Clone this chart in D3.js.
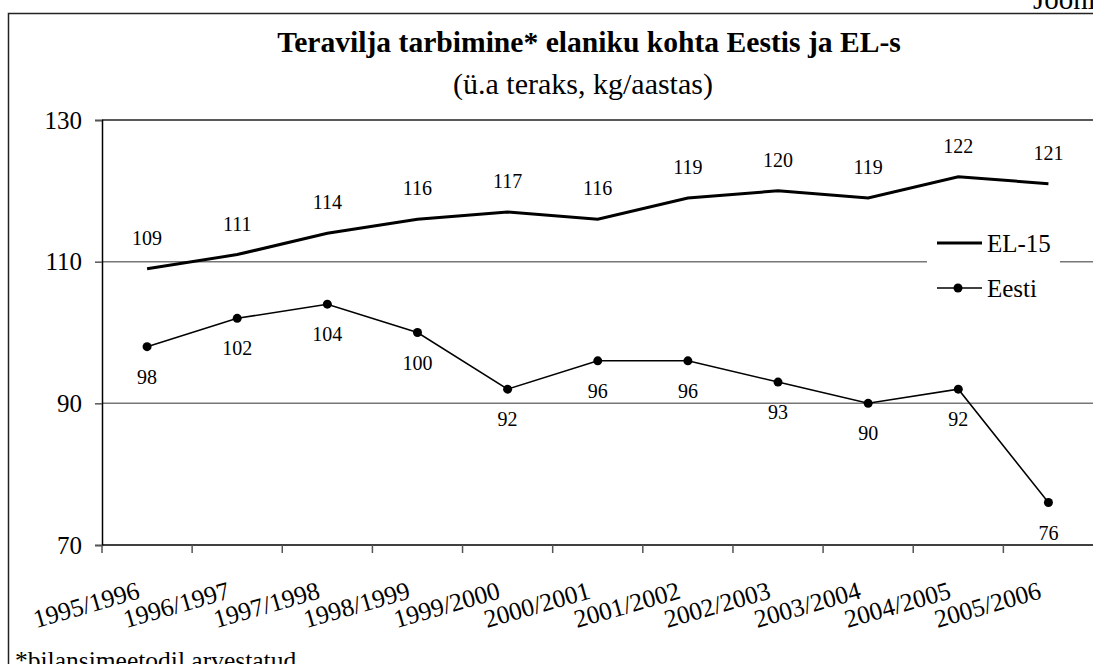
<!doctype html>
<html lang="et">
<head>
    <meta charset="UTF-8">
    <script src="https://cdnjs.cloudflare.com/ajax/libs/d3/7.0.0/d3.min.js"></script>
    <title>Teravilja tarbimine</title>
    <style>
        body { margin: 0; background: #fff; overflow: hidden; }
        text { font-family: "Liberation Serif", "Times New Roman", serif; fill: #000; }
    </style>
</head>
<body>
<div id="Area"></div>
<script>
    // data
    const years = ["1995/1996", "1996/1997", "1997/1998", "1998/1999", "1999/2000", "2000/2001",
        "2001/2002", "2002/2003", "2003/2004", "2004/2005", "2005/2006"];
    const el15 = [109, 111, 114, 116, 117, 116, 119, 120, 119, 122, 121];
    const eesti = [98, 102, 104, 100, 92, 96, 96, 93, 90, 92, 76];
    const yTicks = [70, 90, 110, 130];
    const seriesNames = ["EL-15", "Eesti"];

    const W = 1093, H = 664;
    const plot = {left: 102, top: 120, right: 1093.5, bottom: 545};
    const serif = "Liberation Serif, Times New Roman, serif";

    const svg = d3.select("#Area")
        .append("svg")
        .attr("width", W)
        .attr("height", H);

    // outer frame (goes past the right/bottom edge)
    svg.append("rect")
        .attr("x", 8.5).attr("y", 13.5)
        .attr("width", 1200).attr("height", 700)
        .attr("fill", "none").attr("stroke", "#222").attr("stroke-width", 1.5);

    svg.append("text").attr("x", 1033).attr("y", 9)
        .attr("font-family", serif)
        .attr("font-size", 29).text("Joonis");

    const x = d3.scaleBand().domain(years).range([plot.left, plot.right]);
    const y = d3.scaleLinear().domain([70, 130]).range([plot.bottom, plot.top]);
    const cx = d => x(d) + x.bandwidth() / 2;

    // gridlines
    svg.append("g").selectAll("line")
        .data(yTicks.filter(d => d > 70))
        .join("line")
        .attr("x1", plot.left).attr("x2", plot.right + 10)
        .attr("y1", d => y(d)).attr("y2", d => y(d))
        .attr("stroke", d => d === 130 ? "#222" : "#777")
        .attr("stroke-width", 1.5);

    // y axis
    const yAxis = svg.append("g")
        .attr("transform", "translate(" + plot.left + ",0)")
        .call(d3.axisLeft(y).tickValues(yTicks).tickSize(7).tickPadding(13));
    yAxis.select(".domain").attr("stroke", "#000").attr("stroke-width", 1.5);
    yAxis.selectAll(".tick line").attr("stroke", "#555").attr("stroke-width", 1.5);
    yAxis.selectAll(".tick text").attr("font-size", 25)
        .attr("font-family", serif);

    // x axis, ticks at category boundaries
    const xAxis = svg.append("g")
        .attr("transform", "translate(0," + plot.bottom + ")");
    xAxis.append("line")
        .attr("x1", plot.left).attr("x2", plot.right + 10)
        .attr("stroke", "#000").attr("stroke-width", 1.5);
    xAxis.selectAll(".tk")
        .data(years)
        .join("line")
        .attr("class", "tk")
        .attr("x1", d => x(d)).attr("x2", d => x(d))
        .attr("y1", 0).attr("y2", 8)
        .attr("stroke", "#555").attr("stroke-width", 1.5);
    xAxis.selectAll(".lbl")
        .data(years)
        .join("text")
        .attr("class", "lbl")
        .attr("text-anchor", "end")
        .attr("font-family", serif)
        .attr("font-size", 25.5)
        .attr("transform", d => "translate(" + (cx(d) - 6) + ",53) rotate(-16)")
        .text(d => d);

    // lines
    const line = d3.line().x((d, i) => cx(years[i])).y(d => y(d));

    svg.append("path").datum(el15)
        .attr("d", line)
        .attr("fill", "none").attr("stroke", "#000").attr("stroke-width", 3);

    svg.append("path").datum(eesti)
        .attr("d", line)
        .attr("fill", "none").attr("stroke", "#000").attr("stroke-width", 1.5);

    svg.append("g").selectAll("circle")
        .data(eesti)
        .join("circle")
        .attr("cx", (d, i) => cx(years[i]))
        .attr("cy", d => y(d))
        .attr("r", 4.5)
        .attr("fill", "#000");

    // value labels
    svg.append("g").selectAll("text")
        .data(el15)
        .join("text")
        .attr("x", (d, i) => cx(years[i]))
        .attr("y", d => y(d) - 24)
        .attr("text-anchor", "middle")
        .attr("font-family", serif)
        .attr("font-size", 20)
        .text(d => d);

    svg.append("g").selectAll("text")
        .data(eesti)
        .join("text")
        .attr("x", (d, i) => cx(years[i]))
        .attr("y", d => y(d) + 37)
        .attr("text-anchor", "middle")
        .attr("font-family", serif)
        .attr("font-size", 20)
        .text(d => d);

    // legend
    const leg = svg.append("g");
    leg.append("rect")
        .attr("x", 927).attr("y", 225).attr("width", 133).attr("height", 85)
        .attr("fill", "#fff");
    seriesNames.forEach((name, i) => {
        const ly = 243 + i * 45;
        leg.append("line")
            .attr("x1", 937).attr("x2", 982).attr("y1", ly).attr("y2", ly)
            .attr("stroke", "#000").attr("stroke-width", i === 0 ? 3 : 1.5);
        if (i === 1) {
            leg.append("circle").attr("cx", 958).attr("cy", ly).attr("r", 4.5).attr("fill", "#000");
        }
        leg.append("text").attr("x", 987).attr("y", ly + 9)
            .attr("font-family", serif)
            .attr("font-size", 25).text(name);
    });

    // titles
    svg.append("text")
        .attr("x", 589).attr("y", 52)
        .attr("text-anchor", "middle")
        .attr("font-family", serif)
        .attr("font-size", 29.6).attr("font-weight", "bold")
        .text("Teravilja tarbimine* elaniku kohta Eestis ja EL-s");
    svg.append("text")
        .attr("x", 583).attr("y", 94)
        .attr("text-anchor", "middle")
        .attr("font-family", serif)
        .attr("font-size", 30)
        .text("(ü.a teraks, kg/aastas)");

    // footnote
    svg.append("text")
        .attr("x", 15).attr("y", 669)
        .attr("font-family", serif)
        .attr("font-size", 25.5)
        .text("*bilansimeetodil arvestatud");
</script>
</body>
</html>
